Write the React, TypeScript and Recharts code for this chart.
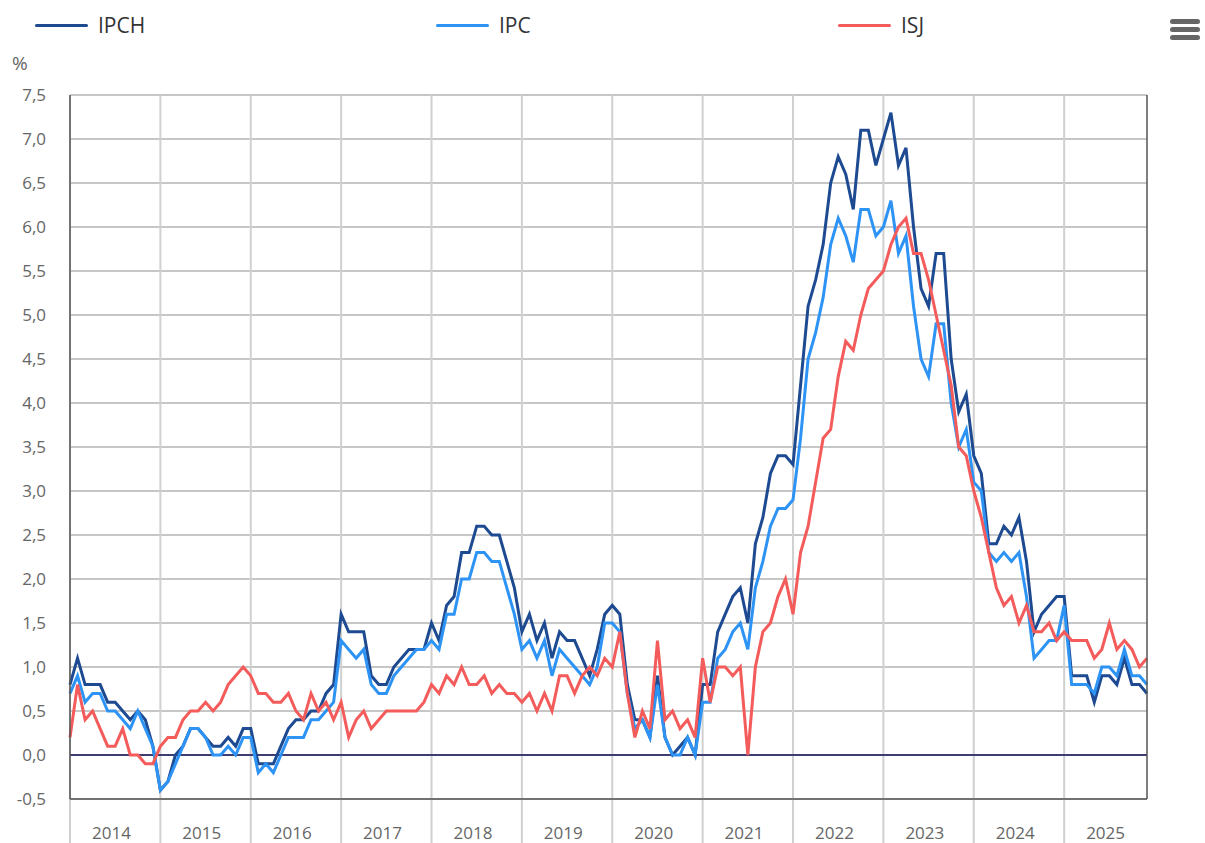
import { LineChart, Line, XAxis, YAxis, CartesianGrid, ReferenceLine } from "recharts";

const YEARS = ["2014", "2015", "2016", "2017", "2018", "2019", "2020", "2021", "2022", "2023", "2024", "2025"];

// Monthly year-on-year rates, Jan 2014 .. Dec 2025
const IPCH = [
  0.8, 1.1, 0.8, 0.8, 0.8, 0.6, 0.6, 0.5, 0.4, 0.5, 0.4, 0.1,
  -0.4, -0.3, 0.0, 0.1, 0.3, 0.3, 0.2, 0.1, 0.1, 0.2, 0.1, 0.3,
  0.3, -0.1, -0.1, -0.1, 0.1, 0.3, 0.4, 0.4, 0.5, 0.5, 0.7, 0.8,
  1.6, 1.4, 1.4, 1.4, 0.9, 0.8, 0.8, 1.0, 1.1, 1.2, 1.2, 1.2,
  1.5, 1.3, 1.7, 1.8, 2.3, 2.3, 2.6, 2.6, 2.5, 2.5, 2.2, 1.9,
  1.4, 1.6, 1.3, 1.5, 1.1, 1.4, 1.3, 1.3, 1.1, 0.9, 1.2, 1.6,
  1.7, 1.6, 0.8, 0.4, 0.4, 0.2, 0.9, 0.2, 0.0, 0.1, 0.2, 0.0,
  0.8, 0.8, 1.4, 1.6, 1.8, 1.9, 1.5, 2.4, 2.7, 3.2, 3.4, 3.4,
  3.3, 4.2, 5.1, 5.4, 5.8, 6.5, 6.8, 6.6, 6.2, 7.1, 7.1, 6.7,
  7.0, 7.3, 6.7, 6.9, 6.0, 5.3, 5.1, 5.7, 5.7, 4.5, 3.9, 4.1,
  3.4, 3.2, 2.4, 2.4, 2.6, 2.5, 2.7, 2.2, 1.4, 1.6, 1.7, 1.8,
  1.8, 0.9, 0.9, 0.9, 0.6, 0.9, 0.9, 0.8, 1.1, 0.8, 0.8, 0.7,
];

const IPC = [
  0.7, 0.9, 0.6, 0.7, 0.7, 0.5, 0.5, 0.4, 0.3, 0.5, 0.3, 0.1,
  -0.4, -0.3, -0.1, 0.1, 0.3, 0.3, 0.2, 0.0, 0.0, 0.1, 0.0, 0.2,
  0.2, -0.2, -0.1, -0.2, 0.0, 0.2, 0.2, 0.2, 0.4, 0.4, 0.5, 0.6,
  1.3, 1.2, 1.1, 1.2, 0.8, 0.7, 0.7, 0.9, 1.0, 1.1, 1.2, 1.2,
  1.3, 1.2, 1.6, 1.6, 2.0, 2.0, 2.3, 2.3, 2.2, 2.2, 1.9, 1.6,
  1.2, 1.3, 1.1, 1.3, 0.9, 1.2, 1.1, 1.0, 0.9, 0.8, 1.0, 1.5,
  1.5, 1.4, 0.7, 0.3, 0.4, 0.2, 0.8, 0.2, 0.0, 0.0, 0.2, 0.0,
  0.6, 0.6, 1.1, 1.2, 1.4, 1.5, 1.2, 1.9, 2.2, 2.6, 2.8, 2.8,
  2.9, 3.6, 4.5, 4.8, 5.2, 5.8, 6.1, 5.9, 5.6, 6.2, 6.2, 5.9,
  6.0, 6.3, 5.7, 5.9, 5.1, 4.5, 4.3, 4.9, 4.9, 4.0, 3.5, 3.7,
  3.1, 3.0, 2.3, 2.2, 2.3, 2.2, 2.3, 1.8, 1.1, 1.2, 1.3, 1.3,
  1.7, 0.8, 0.8, 0.8, 0.7, 1.0, 1.0, 0.9, 1.2, 0.9, 0.9, 0.8,
];

const ISJ = [
  0.2, 0.8, 0.4, 0.5, 0.3, 0.1, 0.1, 0.3, 0.0, 0.0, -0.1, -0.1,
  0.1, 0.2, 0.2, 0.4, 0.5, 0.5, 0.6, 0.5, 0.6, 0.8, 0.9, 1.0,
  0.9, 0.7, 0.7, 0.6, 0.6, 0.7, 0.5, 0.4, 0.7, 0.5, 0.6, 0.4,
  0.6, 0.2, 0.4, 0.5, 0.3, 0.4, 0.5, 0.5, 0.5, 0.5, 0.5, 0.6,
  0.8, 0.7, 0.9, 0.8, 1.0, 0.8, 0.8, 0.9, 0.7, 0.8, 0.7, 0.7,
  0.6, 0.7, 0.5, 0.7, 0.5, 0.9, 0.9, 0.7, 0.9, 1.0, 0.9, 1.1,
  1.0, 1.4, 0.7, 0.2, 0.5, 0.3, 1.3, 0.4, 0.5, 0.3, 0.4, 0.2,
  1.1, 0.6, 1.0, 1.0, 0.9, 1.0, 0.0, 1.0, 1.4, 1.5, 1.8, 2.0,
  1.6, 2.3, 2.6, 3.1, 3.6, 3.7, 4.3, 4.7, 4.6, 5.0, 5.3, 5.4,
  5.5, 5.8, 6.0, 6.1, 5.7, 5.7, 5.4, 5.0, 4.6, 4.2, 3.5, 3.4,
  3.0, 2.7, 2.3, 1.9, 1.7, 1.8, 1.5, 1.7, 1.4, 1.4, 1.5, 1.3,
  1.4, 1.3, 1.3, 1.3, 1.1, 1.2, 1.5, 1.2, 1.3, 1.2, 1.0, 1.1,
];

const Y_TICKS = [-0.5, 0, 0.5, 1, 1.5, 2, 2.5, 3, 3.5, 4, 4.5, 5, 5.5, 6, 6.5, 7, 7.5];

const SERIES = [
  { key: "ipch", name: "IPCH", color: "#1d4a91" },
  { key: "ipc", name: "IPC", color: "#2d93f4" },
  { key: "isj", name: "ISJ", color: "#f45b5b" },
];

const FONT = "'Open Sans', 'DejaVu Sans', sans-serif";

const rows = IPCH.map((v, i) => ({ i, ipch: v, ipc: IPC[i], isj: ISJ[i] }));
const yearStarts = YEARS.map((_, k) => k * 12);
const yearMids = YEARS.map((_, k) => k * 12 + 5.5);

const fmt = (v: number) => v.toFixed(1).replace(".", ",");

function Legend() {
  const pos = [35, 436, 838];
  return (
    <>
      {SERIES.map((s, k) => (
        <div
          key={s.key}
          style={{ position: "absolute", left: pos[k], top: 11, display: "flex", alignItems: "center" }}
        >
          <div style={{ width: 53, height: 3, background: s.color, borderRadius: 2 }} />
          <span style={{ marginLeft: 10, fontSize: 21, color: "#333", fontFamily: FONT, lineHeight: "28px" }}>
            {s.name}
          </span>
        </div>
      ))}
    </>
  );
}

function MenuIcon() {
  return (
    <div style={{ position: "absolute", left: 1170, top: 19 }}>
      {[0, 1, 2].map((k) => (
        <div
          key={k}
          style={{ width: 30, height: 5, background: "#666", borderRadius: 3, marginBottom: k < 2 ? 3 : 0 }}
        />
      ))}
    </div>
  );
}

export default function App() {
  const tickStyle = { fill: "#666", fontSize: 17, fontFamily: FONT };
  return (
    <div style={{ position: "absolute", left: 0, top: 0, width: 1205, height: 843, background: "#fff" }}>
      <Legend />
      <MenuIcon />
      <div style={{ position: "absolute", left: 12, top: 50, fontSize: 19, color: "#666", fontFamily: FONT }}>%</div>
      <LineChart width={1205} height={843} data={rows} margin={{ top: 95, right: 0, left: 0, bottom: 0 }}>
        <CartesianGrid yAxisId="left" vertical={false} stroke="#8e8e8e" strokeWidth={1} />
        {yearStarts.map((m) => (
          <ReferenceLine
            key={m}
            yAxisId="left"
            ifOverflow="visible"
            segment={[{ x: m, y: 7.5 }, { x: m, y: -1 }]}
            stroke="#d0d0d0"
            strokeWidth={2}
          />
        ))}
        <XAxis
          dataKey="i"
          type="number"
          domain={[0, 143]}
          ticks={yearMids}
          interval={0}
          height={44}
          tickLine={false}
          tickSize={0}
          tickMargin={28}
          axisLine={{ stroke: "#555", strokeWidth: 1.5 }}
          tickFormatter={(v: number) => YEARS[Math.floor(v / 12)]}
          tick={tickStyle}
        />
        <YAxis
          yAxisId="left"
          orientation="left"
          width={70}
          domain={[-0.5, 7.5]}
          ticks={Y_TICKS}
          interval={0}
          tickLine={false}
          tickSize={0}
          tickMargin={24}
          axisLine={{ stroke: "#555", strokeWidth: 1.5 }}
          tickFormatter={fmt}
          tick={tickStyle}
        />
        <YAxis
          yAxisId="right"
          orientation="right"
          width={58}
          domain={[-0.5, 7.5]}
          ticks={Y_TICKS}
          interval={0}
          tickLine={false}
          tickSize={0}
          tickMargin={28}
          axisLine={{ stroke: "#555", strokeWidth: 1.5 }}
          tickFormatter={fmt}
          tick={tickStyle}
        />
        <ReferenceLine yAxisId="left" y={0} stroke="#3d3d72" strokeWidth={2} />
        {SERIES.map((s) => (
          <Line
            key={s.key}
            yAxisId="left"
            type="linear"
            dataKey={s.key}
            name={s.name}
            stroke={s.color}
            strokeWidth={3}
            dot={false}
            activeDot={false}
            isAnimationActive={false}
          />
        ))}
      </LineChart>
    </div>
  );
}
